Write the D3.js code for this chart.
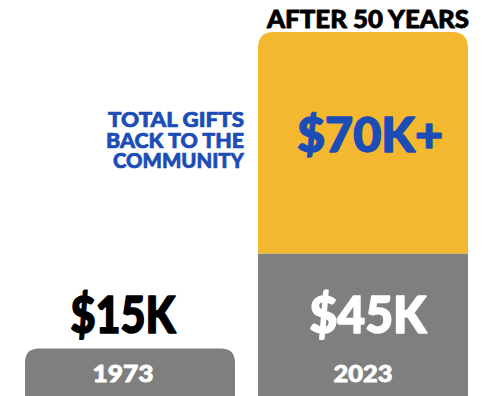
<!DOCTYPE html>
<html>
<head>
<meta charset="utf-8">
<script src="https://cdn.jsdelivr.net/npm/d3@7"></script>
<style>
  body { margin: 0; background: #fff; }
  #chart { width: 494px; height: 396px; }
  text { font-family: "Lato", "DejaVu Sans", sans-serif; font-weight: 900; stroke-linejoin: round; }
</style>
</head>
<body>
<div id="chart"></div>
<script>
// data (thousands of dollars)
var years = ["1973", "2023"];
var baseValues = [15, 45];     // gray part
var giftValues = [0, 70];      // yellow part, given back
var baseLabels = ["$15K", "$45K"];
var giftLabel = "$70K+";
var headerText = "AFTER 50 YEARS";
var sideLines = ["TOTAL GIFTS", "BACK TO THE", "COMMUNITY"];

var width = 494, height = 396;
var gray = "#7f7f7f", yellow = "#f3b82f", blue = "#1c4db6";

var svg = d3.select("#chart").append("svg")
    .attr("width", width)
    .attr("height", height);

var xScale = d3.scaleBand()
    .domain(years)
    .range([25, 468])
    .paddingInner(0.0987);

var yScale = d3.scaleLinear()
    .domain([0, 115])
    .range([height, 32]);

// rect with only top corners rounded
function topRounded(x, y, w, h, r) {
    return "M" + x + "," + (y + h) +
        "V" + (y + r) +
        "Q" + x + "," + y + " " + (x + r) + "," + y +
        "H" + (x + w - r) +
        "Q" + (x + w) + "," + y + " " + (x + w) + "," + (y + r) +
        "V" + (y + h) + "Z";
}

var data = years.map(function(y, i) {
    return {year: y, base: baseValues[i], gift: giftValues[i], label: baseLabels[i]};
});

var bw = xScale.bandwidth();

// gray bars
svg.selectAll(".base")
    .data(data)
    .enter()
    .append("path")
    .attr("class", "base")
    .attr("fill", gray)
    .attr("d", function(d) {
        var x = xScale(d.year), y = yScale(d.base);
        var r = d.gift > 0 ? 0 : 14;
        return topRounded(x, y, bw, yScale(0) - y, r);
    });

// yellow stacked part
svg.selectAll(".gift")
    .data(data.filter(function(d) { return d.gift > 0; }))
    .enter()
    .append("path")
    .attr("class", "gift")
    .attr("fill", yellow)
    .attr("d", function(d) {
        var x = xScale(d.year), y0 = yScale(d.base), y1 = yScale(d.base + d.gift);
        return topRounded(x, y1, bw, y0 - y1, 16);
    });

var labelShift = [-7, 5];
var labelWidths = [105, 117];
var yearWidths = [61, 59];

// year labels
svg.selectAll(".year")
    .data(data)
    .enter()
    .append("text")
    .attr("class", "year")
    .attr("x", function(d, i) { return xScale(d.year) + bw / 2 + (i == 0 ? -7 : 0); })
    .attr("y", yScale(0) - 14)
    .attr("text-anchor", "middle")
    .attr("fill", "#fff")
    .attr("stroke", "#fff")
    .attr("stroke-width", 0.8)
    .attr("font-size", 23)
    .attr("textLength", function(d, i) { return yearWidths[i]; })
    .attr("lengthAdjust", "spacingAndGlyphs")
    .text(function(d) { return d.year; });

// value labels
svg.selectAll(".value")
    .data(data)
    .enter()
    .append("text")
    .attr("class", "value")
    .attr("x", function(d, i) { return xScale(d.year) + bw / 2 + labelShift[i]; })
    .attr("y", yScale(15) - 16)
    .attr("text-anchor", "middle")
    .attr("fill", function(d) { return d.gift > 0 ? "#fff" : "#000"; })
    .attr("stroke", function(d) { return d.gift > 0 ? "#fff" : "#000"; })
    .attr("stroke-width", 1.6)
    .attr("font-size", 51)
    .attr("textLength", function(d, i) { return labelWidths[i]; })
    .attr("lengthAdjust", "spacingAndGlyphs")
    .text(function(d) { return d.label; });

var last = data[1];
var cx = xScale(last.year) + bw / 2;

svg.append("text")
    .attr("x", cx + 7)
    .attr("y", yScale(last.base + last.gift) + 120)
    .attr("text-anchor", "middle")
    .attr("fill", blue)
    .attr("stroke", blue)
    .attr("stroke-width", 1.4)
    .attr("font-size", 47)
    .attr("textLength", 146)
    .attr("lengthAdjust", "spacingAndGlyphs")
    .text(giftLabel);

svg.append("text")
    .attr("x", cx + 5)
    .attr("y", 28)
    .attr("text-anchor", "middle")
    .attr("fill", "#000")
    .attr("stroke", "#000")
    .attr("stroke-width", 0.8)
    .attr("font-size", 25)
    .attr("textLength", 202)
    .attr("lengthAdjust", "spacingAndGlyphs")
    .text(headerText);

var sideWidths = [136, 138, 131];
svg.selectAll(".side")
    .data(sideLines)
    .enter()
    .append("text")
    .attr("class", "side")
    .attr("x", 244)
    .attr("y", function(d, i) { return 127 + i * 20.5; })
    .attr("text-anchor", "end")
    .attr("fill", blue)
    .attr("stroke", blue)
    .attr("stroke-width", 0.7)
    .attr("font-size", 21)
    .attr("textLength", function(d, i) { return sideWidths[i]; })
    .attr("lengthAdjust", "spacingAndGlyphs")
    .text(function(d) { return d; });
</script>
</body>
</html>
